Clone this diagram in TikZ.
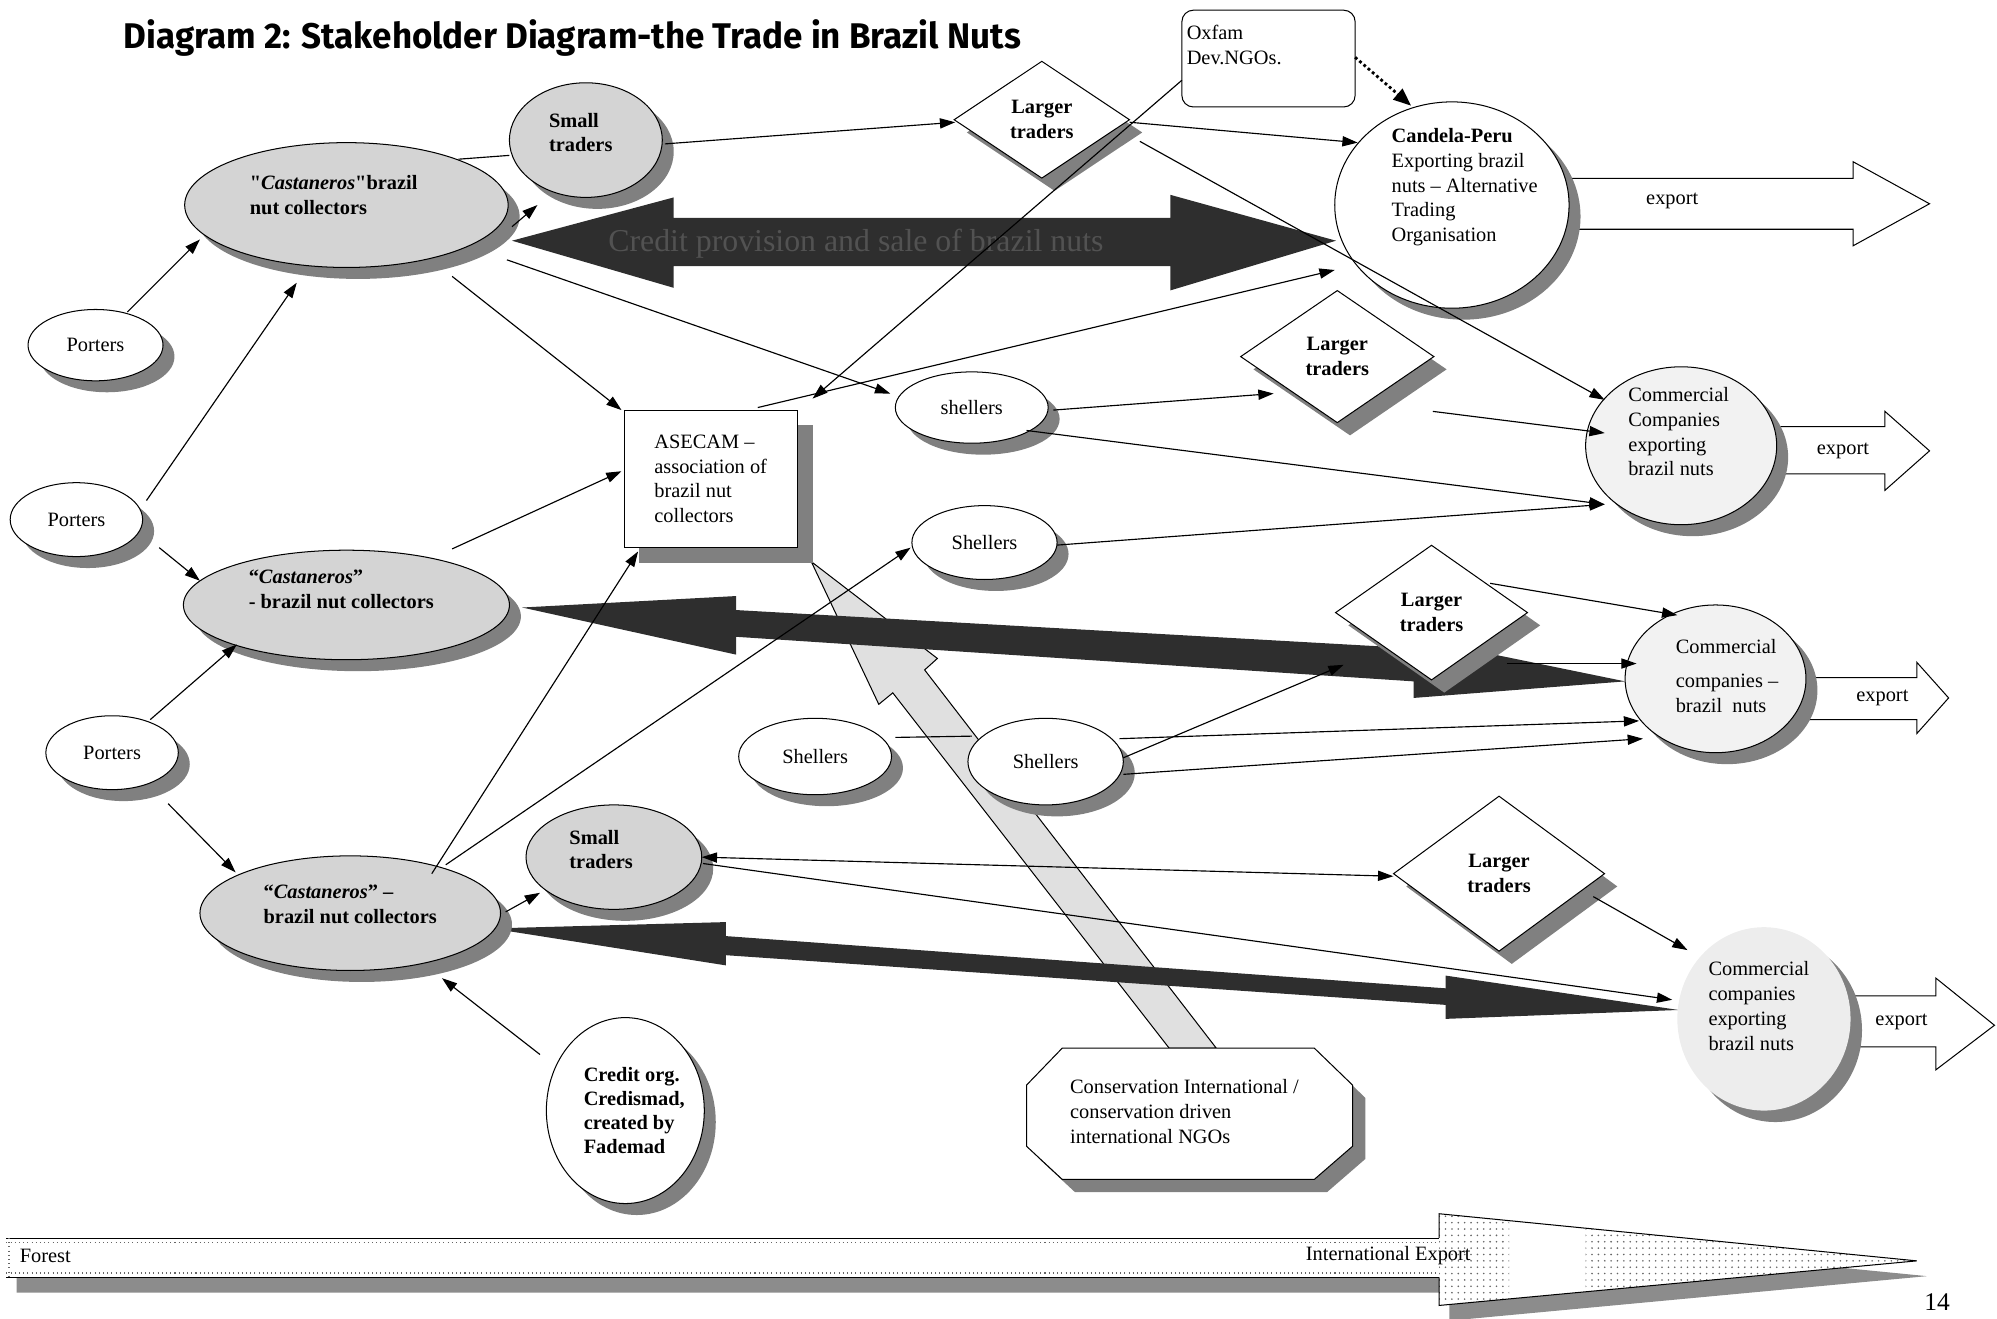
\documentclass[tikz,border=0pt]{standalone}
\usepackage{fontspec}
\setmainfont{Liberation Serif}
\newfontfamily\titlefont{Fira Sans}
\usetikzlibrary{arrows.meta,shapes.geometric,shadows,calc,patterns.meta}
\pgfdeclarelayer{back}
\pgfsetlayers{back,main}
\newcommand{\strq}{{\addfontfeature{Ligatures=TeXOff}"}}
\begin{document}
\begin{tikzpicture}[x=1pt,y=-1pt,
  every node/.style={font=\fontsize{16}{19.5}\selectfont},
  sh/.style={drop shadow={shadow xshift=#1pt,shadow yshift=-#1pt,opacity=1,fill=black!50}},
  oval/.style 2 args={ellipse,draw,line width=0.8pt,fill=white,inner sep=0pt,align=left,minimum width=#1,minimum height=#2,sh=9},
  nut/.style={fill=black!17},
  txt/.style={align=left,inner sep=0pt,font=\bfseries\fontsize{16}{19.5}\selectfont},
  dia/.style 2 args={diamond,draw,line width=0.8pt,fill=white,inner sep=0pt,align=center,minimum width=#1,minimum height=#2,sh=10,font=\bfseries\fontsize{16}{19.5}\selectfont},
  conn/.style={line width=0.9pt,-{Triangle[length=12pt,width=8pt]}},
  conntwo/.style={line width=0.9pt,{Triangle[length=12pt,width=8pt]}-{Triangle[length=12pt,width=8pt]}},
  dotconn/.style={line width=2.2pt,dash pattern=on 2.2pt off 2.2pt,-{Triangle[length=14pt,width=11pt]}},
  plainln/.style={line width=0.9pt},
  bigarrow/.style={fill=black!82},
  expo/.style={draw,line width=0.8pt,fill=white}
]
\useasboundingbox (0,0) rectangle (1568,1035);

% ---------- title ----------
\node[anchor=west,inner sep=0pt,font=\titlefont\bfseries\fontsize{28}{32}\selectfont] (title) at (97,30) {\scalebox{0.98}[1]{Diagram 2: Stakeholder Diagram-the Trade in Brazil Nuts}};

% ---------- nodes ----------
\node[oval={106}{56}] (P1) at (75,271) {Porters};
\node[oval={104}{58}] (P2) at (60,408) {Porters};
\node[oval={104}{58}] (P3) at (88,591) {Porters};
\node[oval={254}{98},nut] (C1) at (272,161) {};
\node[txt] (C1t) at (262,153) {\strq\textit{Castaneros}\strq brazil\\nut collectors};
\node[oval={256}{86},nut] (C2) at (272,475) {};
\node[txt] (C2t) at (268,463) {“\textit{Castaneros}”\\- brazil nut collectors};
\node[oval={236}{90},nut] (C3) at (275,717) {};
\node[txt] (C3t) at (275,710) {“\textit{Castaneros}” –\\brazil nut collectors};
\node[oval={120}{90},nut] (ST1) at (460,110) {};
\node[txt] (ST1t) at (456,104) {Small\\traders};
\node[oval={138}{82},nut] (ST2) at (482,673) {};
\node[txt] (ST2t) at (472,667) {Small\\traders};
\node[oval={120}{56}] (SH1) at (763,320) {shellers};
\node[oval={114}{58}] (SH2) at (773,426) {Shellers};
\node[oval={120}{60}] (SH3) at (640,594) {Shellers};
\node[oval={122}{68}] (SH4) at (821,598) {Shellers};
\node[oval={184}{162}] (CP) at (1140,161) {};
\node[align=left] (CPt) at (1150,147) {\textbf{Candela-Peru}\\Exporting brazil\\nuts – Alternative\\Trading\\Organisation};
\node[oval={150}{124},fill=black!5] (CC2) at (1320,350) {};
\node[align=left] (CC2t) at (1318,339) {Commercial\\Companies\\exporting\\brazil nuts};
\node[oval={142}{116},fill=black!5] (CC3) at (1347,533) {};
\node[align=left] (CC3t) at (1356,531) {Commercial\\[7pt]companies –\\brazil\ \ nuts};
\node[oval={136}{144},fill=black!7,draw=none] (CC4) at (1385,800) {};
\node[align=left] (CC4t) at (1381,790) {Commercial\\companies\\exporting\\brazil nuts};
\node[oval={124}{146}] (CR) at (491,872) {};
\node[txt,font=\bfseries\fontsize{16}{19}\selectfont] (CRt) at (498,872) {Credit org.\\Credismad,\\created by\\Fademad};
\node[dia={138}{92}] (LT1) at (818,94) {Larger\\traders};
\node[dia={152}{104}] (LT2) at (1050,280) {Larger\\traders};
\node[dia={151}{106}] (LT3) at (1124,481) {Larger\\traders};
\node[dia={166}{122}] (LT4) at (1177,686) {Larger\\traders};
\node[draw,line width=0.8pt,rounded corners=9pt,fill=white,minimum width=136,minimum height=76,inner sep=0pt] (OX) at (996,46) {};
\node[anchor=north west,align=left,inner sep=0pt] (OXt) at ($(OX.north west)+(4,12)$) {Oxfam\\Dev.NGOs.};
\node[draw,line width=0.8pt,fill=white,minimum width=136,minimum height=108,inner sep=0pt,align=left,sh=12] (AS) at (558,376) {ASECAM –\\association of\\brazil nut\\collectors};

% conservation octagon
\coordinate (CIc) at (934,874.5);
\begin{scope}[shift={(CIc)}]
  \fill[black!50,xshift=10pt,yshift=-10pt] (-100,-51.5) -- (98,-51.5) -- (128,-22.5) -- (128,25.5) -- (98,51.5) -- (-100,51.5) -- (-128,25.5) -- (-128,-22.5) -- cycle;
  \draw[line width=0.8pt,fill=white] (-100,-51.5) -- (98,-51.5) -- (128,-22.5) -- (128,25.5) -- (98,51.5) -- (-100,51.5) -- (-128,25.5) -- (-128,-22.5) -- cycle;
\end{scope}
\node[align=left] (CI) at (930,873) {Conservation International /\\conservation driven\\international NGOs};

% ---------- background arrows ----------
\begin{pgfonlayer}{back}
  % light conservation arrow
  \coordinate (LAt) at ($(AS)+(79,65)$);
  \draw[line width=0.8pt,fill=black!12,shift={(LAt)}] (0,0) -- (99,76) -- (89,85) -- (318,382) -- (281,382) -- (64,103) -- (53,112) -- cycle;
  % dark double arrows
  \coordinate (A1a) at ($(C1)+(130,28)$);
  \fill[bigarrow,shift={(A1a)}] (0,0) -- (127,-34) -- (127,-18) -- (517,-18) -- (517,-36) -- (647,0) -- (517,39) -- (517,20) -- (127,20) -- (127,37) -- cycle;
  \node[text=black!68,font=\fontsize{25}{30}\selectfont,inner sep=0pt] (A1t) at ($(A1a)+(270,2)$) {Credit provision and sale of brazil nuts};
  \coordinate (A2a) at ($(C2)+(138,2)$);
  \fill[bigarrow,shift={(A2a)}] (0,0) -- (168,-9) -- (168,2) -- (700,32) -- (700,24) -- (866,58) -- (700,71) -- (700,58) -- (168,23) -- (168,37) -- cycle;
  \coordinate (A3a) at ($(C3)+(111,12)$);
  \fill[bigarrow,shift={(A3a)}] (0,0) -- (184,-5) -- (184,6) -- (749,47) -- (749,37) -- (932,64) -- (749,71) -- (749,60) -- (184,21) -- (184,29) -- cycle;
  % export arrows
  \draw[expo,shift={(CP)}] (85,-21) -- (315,-21) -- (315,-34) -- (375,-1) -- (315,32) -- (315,19) -- (85,19) -- cycle;
  \node (E1) at ($(CP)+(173,-3)$) {export};
  \draw[expo,shift={(CC2)}] (70,-15) -- (160,-15) -- (160,-27) -- (195,4) -- (160,35) -- (160,22) -- (70,22) -- cycle;
  \node (E2) at ($(CC2)+(127,4)$) {export};
  \draw[expo,shift={(CC3)}] (63,-1) -- (158,-1) -- (158,-13) -- (183,15) -- (158,43) -- (158,32) -- (63,32) -- cycle;
  \node (E3) at ($(CC3)+(131,15)$) {export};
  \draw[expo,shift={(CC4)}] (65,-18) -- (135,-18) -- (135,-32) -- (181,5) -- (135,40) -- (135,22) -- (65,22) -- cycle;
  \node (E4) at ($(CC4)+(108,2)$) {export};
\end{pgfonlayer}

% ---------- connectors ----------
\draw[conn] ($(P1)+(25,-26)$) -- ($(C1)+(-115,27)$);
\draw[conn] ($(P2)+(55,-15)$) -- ($(C1)+(-39,61)$);
\draw[conn] ($(P2)+(65,22)$) -- ($(C2)+(-115,-19)$);
\draw[conn] ($(P3)+(30,-26)$) -- ($(C2)+(-86,31)$);
\draw[conn] ($(P3)+(44,40)$) -- ($(C3)+(-90,-32)$);
\draw[plainln] ($(C1)+(88,-36)$) -- ($(ST1)+(-60,12)$);
\draw[conn] ($(C1)+(130,17)$) -- ($(ST1)+(-38,51)$);
\draw[conn] ($(ST1)+(62,3)$) -- ($(LT1)+(-68,2)$);
\draw[conn] ($(LT1)+(69,2)$) -- ($(CP)+(-74,-49)$);
\draw[conn] ($(LT1)+(77,17)$) -- ($(CC2)+(-60,-36)$);
\draw[dotconn] ($(OX)+(68,-1)$) -- ($(CP)+(-32,-78)$);
\draw[conn] ($(OX)+(-68,17)$) -- ($(AS)+(80,-63)$);
\draw[conn] ($(AS)+(37,-56)$) -- ($(CP)+(-92,51)$);
\draw[conn] ($(C1)+(83,56)$) -- ($(AS)+(-70,-54)$);
\draw[conn] ($(C1)+(126,43)$) -- ($(SH1)+(-64,-11)$);
\draw[conn] ($(C2)+(83,-44)$) -- ($(AS)+(-70,-6)$);
\draw[conn] ($(C3)+(64,-31)$) -- ($(AS)+(-57,57)$);
\draw[conn] ($(C3)+(75,-38)$) -- ($(SH2)+(-58,4)$);
\draw[conn] ($(C3)+(122,-1)$) -- ($(ST2)+(-58,28)$);
\draw[conn] ($(CR)+(-67,-44)$) -- ($(C3)+(72,51)$);
\draw[conn] ($(SH1)+(64,2)$) -- ($(LT2)+(-50,29)$);
\draw[conn] ($(SH1)+(43,18)$) -- ($(CC2)+(-60,46)$);
\draw[conn] ($(LT2)+(75,43)$) -- ($(CC2)+(-60,-10)$);
\draw[conn] ($(SH2)+(57,2)$) -- ($(CC2)+(-60,46)$);
\draw[conn] ($(LT3)+(46,-23)$) -- ($(CC3)+(-30,-50)$);
\draw[conn] ($(LT3)+(59,40)$) -- ($(CC3)+(-62,-12)$);
\draw[conn] ($(SH4)+(58,-18)$) -- ($(CC3)+(-60,33)$);
\draw[conn] ($(SH4)+(61,10)$) -- ($(CC3)+(-57,47)$);
\draw[conn] ($(SH4)+(61,-3)$) -- ($(LT3)+(-69,41)$);
\draw[plainln] ($(SH3)+(63,-15)$) -- ($(SH4)+(-58,-20)$);
\draw[conntwo] ($(ST2)+(69,0)$) -- ($(LT4)+(-83,2)$);
\draw[conn] ($(ST2)+(70,5)$) -- ($(CC4)+(-72,-15)$);
\draw[conn] ($(LT4)+(74,18)$) -- ($(CC4)+(-60,-54)$);

% ---------- forest / export band ----------
\fill[black!45,xshift=8pt,yshift=-12pt] (5,972) -- (1130,972) -- (1130,953) -- (1505,990) -- (1130,1025) -- (1130,1003) -- (5,1003) -- cycle;
\fill[white] (5,972) -- (1130,972) -- (1130,953) -- (1505,990) -- (1130,1025) -- (1130,1003) -- (5,1003) -- cycle;
\begin{scope}
  \clip (1130,953) -- (1505,990) -- (1130,1025) -- cycle;
  \fill[pattern={Dots[distance=5pt,radius=0.7pt]},pattern color=black!60] (1128,945) rectangle (1185,1035);
  \fill[pattern={Dots[distance=5pt,radius=0.7pt]},pattern color=black!60] (1245,945) rectangle (1510,1035);
\end{scope}
\draw[line width=0.8pt] (1130,972) -- (1130,953) -- (1505,990) -- (1130,1025) -- (1130,1003);
\draw[line width=0.6pt] (5,972) -- (1130,972);
\draw[line width=0.6pt] (5,1003) -- (1130,1003);
\draw[black!60,line width=1pt,dash pattern=on 0.8pt off 2.5pt] (5,975.5) -- (1130,975.5);
\draw[black!60,line width=1pt,dash pattern=on 0.8pt off 2.5pt] (5,999.5) -- (1130,999.5);
\draw[black!60,line width=1pt,dash pattern=on 0.8pt off 2.5pt] (7,972) -- (7,1003);
\node[anchor=west] (forest) at (12,986) {Forest};
\node (intl) at (1090,986) {International Export};
\node[font=\fontsize{20}{24}\selectfont] (pg) at (1521,1022) {14};
\end{tikzpicture}
\end{document}
